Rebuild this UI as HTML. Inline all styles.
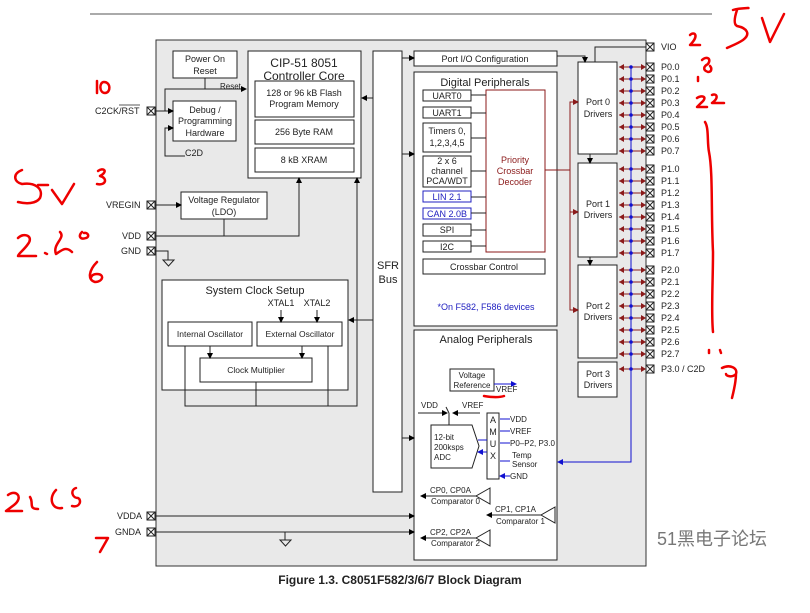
<!DOCTYPE html>
<html><head><meta charset="utf-8"><style>
body{margin:0;background:#fff;width:810px;height:608px;overflow:hidden}
text{font-family:"Liberation Sans",Arial,sans-serif;fill:#222}
</style></head><body>
<svg width="810" height="608" viewBox="0 0 810 608" xmlns="http://www.w3.org/2000/svg">
<defs>
<marker id="a" markerWidth="6" markerHeight="6" refX="5" refY="3" orient="auto" markerUnits="userSpaceOnUse"><path d="M0,0L6,3L0,6z" fill="#000"/></marker>
<marker id="ar" markerWidth="6" markerHeight="6" refX="5" refY="3" orient="auto" markerUnits="userSpaceOnUse"><path d="M0,0L6,3L0,6z" fill="#8b1a1a"/></marker>
<marker id="ab" markerWidth="6" markerHeight="6" refX="5" refY="3" orient="auto" markerUnits="userSpaceOnUse"><path d="M0,0L6,3L0,6z" fill="#1010d0"/></marker>
<g id="pin">
<line x1="619" y1="0" x2="644" y2="0" stroke="#8b1a1a"/>
<path d="M619,0l5,-3v6zM646,0l-5,-3v6z" fill="#8b1a1a"/>
<circle cx="631" cy="0" r="1.8" fill="#1010d0"/>
<rect x="646" y="-4" width="8" height="8" fill="#fff" stroke="#222"/>
<path d="M646,-4l8,8M654,-4l-8,8" stroke="#222"/>
</g>
</defs>
<line x1="90" y1="14" x2="712" y2="14" stroke="#555"/>
<rect x="156" y="40" width="490" height="526" fill="#e9e9e9" stroke="#333"/>
<g fill="#fff" stroke="#222" stroke-width="1">
<rect x="173" y="51" width="64" height="27"/>
<rect x="248" y="51" width="113" height="127"/>
<rect x="255" y="81" width="99" height="36"/>
<rect x="255" y="120" width="99" height="24"/>
<rect x="255" y="148" width="99" height="24"/>
<rect x="173" y="101" width="63" height="40"/>
<rect x="181" y="192" width="86" height="27"/>
<rect x="373" y="51" width="29" height="441"/>
<rect x="414" y="51" width="143" height="15"/>
<rect x="414" y="72" width="143" height="254"/>
<rect x="423" y="90" width="48" height="11"/>
<rect x="423" y="107" width="48" height="11"/>
<rect x="423" y="123" width="48" height="29"/>
<rect x="423" y="156" width="48" height="31"/>
<rect x="423" y="191" width="48" height="11" stroke="#2020c0"/>
<rect x="423" y="208" width="48" height="11" stroke="#2020c0"/>
<rect x="423" y="224" width="48" height="12"/>
<rect x="423" y="241" width="48" height="11"/>
<rect x="486" y="90" width="59" height="162" stroke="#8b1a1a"/>
<rect x="423" y="259" width="122" height="15"/>
<rect x="414" y="330" width="143" height="230"/>
<rect x="578" y="62" width="39" height="92"/>
<rect x="578" y="163" width="39" height="94"/>
<rect x="578" y="265" width="39" height="93"/>
<rect x="578" y="362" width="39" height="35"/>
<rect x="162" y="280" width="186" height="110"/>
<rect x="168" y="322" width="84" height="24"/>
<rect x="257" y="322" width="85" height="24"/>
<rect x="200" y="358" width="112" height="24"/>
<rect x="450" y="369" width="44" height="22"/>
<rect x="487" y="413" width="12" height="66"/>
<path d="M431,425H472L479,446L472,468H431Z"/>
</g>
<g stroke="#222" fill="none">
<path d="M155,111H173" marker-end="url(#a)"/><path d="M205,78V89H165V111"/><path d="M205,89H246" marker-end="url(#a)"/>
<path d="M185,156H165V128H173" marker-end="url(#a)"/>
<path d="M155,205H181" marker-end="url(#a)"/>
<path d="M155,236H299V178" marker-end="url(#a)"/><path d="M224,219V236"/>
<path d="M155,251H168V260"/><path d="M163,260h11l-5.5,6z"/>
<path d="M373,98H362" marker-end="url(#a)"/><path d="M185,346V406H357V178" marker-end="url(#a)"/><path d="M256,382V406"/><path d="M328,346V406"/>
<path d="M373,320H349" marker-end="url(#a)"/><path d="M210,346V358" marker-end="url(#a)"/><path d="M302,346V358" marker-end="url(#a)"/>
<path d="M281,310V322" marker-end="url(#a)"/><path d="M317,310V322" marker-end="url(#a)"/>
<path d="M402,58H414" marker-end="url(#a)"/><path d="M402,154H414" marker-end="url(#a)"/><path d="M402,438H414" marker-end="url(#a)"/>
<path d="M557,56H585V62" marker-end="url(#a)"/><path d="M646,47H595V62"/>
<path d="M590,154V163" marker-end="url(#a)"/><path d="M590,257V265" marker-end="url(#a)"/>
<path d="M155,516H414" marker-end="url(#a)"/><path d="M155,532H414" marker-end="url(#a)"/>
<path d="M285,532V540"/><path d="M280,540h11l-5.5,6z"/>
<path d="M471,95H486M471,113H486M471,138H486M471,171H486M471,197H486M471,213H486M471,230H486M471,246H486"/>
<path d="M418,413H447" marker-end="url(#a)"/><path d="M480,413H453" marker-end="url(#a)"/><path d="M449,413l-3,-6M449,413V425"/>
<path d="M490,488l-14,8 14,8z"/><path d="M476,496H421" marker-end="url(#a)"/>
<path d="M555,507l-14,8 14,8z"/><path d="M541,515H487" marker-end="url(#a)"/>
<path d="M490,530l-14,8 14,8z"/><path d="M476,538H421" marker-end="url(#a)"/>
</g>
<g stroke="#8b1a1a" fill="none">
<path d="M545,170H570V102H578" marker-end="url(#ar)"/><path d="M570,170V212H578" marker-end="url(#ar)"/><path d="M570,212V310H578" marker-end="url(#ar)"/>
</g>
<g stroke="#1010d0" fill="none">
<path d="M631,67V462H558" marker-end="url(#ab)"/>
<path d="M494,384H516" marker-end="url(#ab)"/>
<path d="M487,440H478M487,452H478" marker-end="url(#ab)"/>
<path d="M510,419H500M510,431H500M510,443H500M510,461H500M510,476H500" marker-end="url(#ab)"/>
</g>
<use href="#pin" y="67"/><use href="#pin" y="79"/><use href="#pin" y="91"/><use href="#pin" y="103"/><use href="#pin" y="115"/><use href="#pin" y="127"/><use href="#pin" y="139"/><use href="#pin" y="151"/>
<use href="#pin" y="169"/><use href="#pin" y="181"/><use href="#pin" y="193"/><use href="#pin" y="205"/><use href="#pin" y="217"/><use href="#pin" y="229"/><use href="#pin" y="241"/><use href="#pin" y="253"/>
<use href="#pin" y="270"/><use href="#pin" y="282"/><use href="#pin" y="294"/><use href="#pin" y="306"/><use href="#pin" y="318"/><use href="#pin" y="330"/><use href="#pin" y="342"/><use href="#pin" y="354"/>
<use href="#pin" y="369"/>
<g font-size="9" text-anchor="middle">
<text x="205" y="62">Power On</text><text x="205" y="74">Reset</text>
<text x="304" y="67" font-size="12">CIP-51 8051</text><text x="304" y="80" font-size="12">Controller Core</text>
<text x="304" y="96">128 or 96 kB Flash</text><text x="304" y="107">Program Memory</text>
<text x="304" y="135">256 Byte RAM</text><text x="304" y="163">8 kB XRAM</text>
<text x="205" y="113">Debug /</text><text x="205" y="124">Programming</text><text x="205" y="136">Hardware</text>
<text x="224" y="203">Voltage Regulator</text><text x="224" y="215">(LDO)</text>
<text x="388" y="269" font-size="11">SFR</text><text x="388" y="283" font-size="11">Bus</text>
<text x="485" y="62">Port I/O Configuration</text>
<text x="485" y="86" font-size="11">Digital Peripherals</text>
<text x="447" y="99">UART0</text><text x="447" y="116">UART1</text>
<text x="447" y="134">Timers 0,</text><text x="447" y="146">1,2,3,4,5</text>
<text x="447" y="164">2 x 6</text><text x="447" y="174">channel</text><text x="447" y="184">PCA/WDT</text>
<text x="447" y="200" style="fill:#2020c0">LIN 2.1</text><text x="447" y="217" style="fill:#2020c0">CAN 2.0B</text>
<text x="447" y="233">SPI</text><text x="447" y="250">I2C</text>
<text x="515" y="163" style="fill:#8b1a1a">Priority</text><text x="515" y="174" style="fill:#8b1a1a">Crossbar</text><text x="515" y="185" style="fill:#8b1a1a">Decoder</text>
<text x="484" y="270">Crossbar Control</text>
<text x="486" y="310" style="fill:#2020c0">*On F582, F586 devices</text>
<text x="486" y="343" font-size="11">Analog Peripherals</text>
<text x="472" y="378" font-size="8">Voltage</text><text x="472" y="388" font-size="8">Reference</text>
<text x="598" y="105">Port 0</text><text x="598" y="117">Drivers</text>
<text x="598" y="207">Port 1</text><text x="598" y="218">Drivers</text>
<text x="598" y="309">Port 2</text><text x="598" y="320">Drivers</text>
<text x="598" y="377">Port 3</text><text x="598" y="388">Drivers</text>
<text x="255" y="294" font-size="11">System Clock Setup</text>
<text x="210" y="337" font-size="8.5">Internal Oscillator</text>
<text x="300" y="337" font-size="8.5">External Oscillator</text>
<text x="256" y="373" font-size="8.5">Clock Multiplier</text>
<text x="281" y="306">XTAL1</text><text x="317" y="306">XTAL2</text>
<text x="493" y="423">A</text><text x="493" y="435">M</text><text x="493" y="447">U</text><text x="493" y="459">X</text>
</g>
<g font-size="8">
<text x="220" y="89">Reset</text>
<text x="185" y="156" font-size="9">C2D</text>
<text x="496" y="392">VREF</text>
<text x="421" y="408">VDD</text><text x="462" y="408">VREF</text>
<text x="510" y="422">VDD</text><text x="510" y="434">VREF</text><text x="510" y="446">P0–P2, P3.0</text>
<text x="512" y="458">Temp</text><text x="512" y="467">Sensor</text><text x="510" y="479">GND</text>
<text x="434" y="440">12-bit</text><text x="434" y="450">200ksps</text><text x="434" y="460">ADC</text>
<text x="430" y="493">CP0, CP0A</text><text x="431" y="504">Comparator 0</text>
<text x="495" y="512">CP1, CP1A</text><text x="496" y="524">Comparator 1</text>
<text x="430" y="535">CP2, CP2A</text><text x="431" y="546">Comparator 2</text>
</g>
<g font-size="9">
<text x="95" y="114">C2CK/RST</text><line x1="119" y1="105" x2="140" y2="105" stroke="#222" stroke-width="0.8"/>
<text x="106" y="208">VREGIN</text><text x="122" y="239">VDD</text><text x="121" y="254">GND</text>
<text x="117" y="519">VDDA</text><text x="115" y="535">GNDA</text>
<text x="661" y="50">VIO</text>
<text x="661" y="70">P0.0</text><text x="661" y="82">P0.1</text><text x="661" y="94">P0.2</text><text x="661" y="106">P0.3</text><text x="661" y="118">P0.4</text><text x="661" y="130">P0.5</text><text x="661" y="142">P0.6</text><text x="661" y="154">P0.7</text>
<text x="661" y="172">P1.0</text><text x="661" y="184">P1.1</text><text x="661" y="196">P1.2</text><text x="661" y="208">P1.3</text><text x="661" y="220">P1.4</text><text x="661" y="232">P1.5</text><text x="661" y="244">P1.6</text><text x="661" y="256">P1.7</text>
<text x="661" y="273">P2.0</text><text x="661" y="285">P2.1</text><text x="661" y="297">P2.2</text><text x="661" y="309">P2.3</text><text x="661" y="321">P2.4</text><text x="661" y="333">P2.5</text><text x="661" y="345">P2.6</text><text x="661" y="357">P2.7</text>
<text x="661" y="372">P3.0 / C2D</text>
</g>
<g fill="#fff" stroke="#222">
<rect x="147" y="107" width="8" height="8"/><rect x="147" y="201" width="8" height="8"/><rect x="147" y="232" width="8" height="8"/><rect x="147" y="247" width="8" height="8"/><rect x="147" y="512" width="8" height="8"/><rect x="147" y="528" width="8" height="8"/>
<rect x="646" y="43" width="8" height="8"/>
<path d="M147,107l8,8M155,107l-8,8M147,201l8,8M155,201l-8,8M147,232l8,8M155,232l-8,8M147,247l8,8M155,247l-8,8M147,512l8,8M155,512l-8,8M147,528l8,8M155,528l-8,8M646,43l8,8M654,43l-8,8" fill="none"/>
</g>
<g stroke="#e00" stroke-width="2.5" fill="none" stroke-linecap="round" stroke-linejoin="round">
<path d="M97,81v12M104,82c-5,0 -5,11 1,11c6,0 6,-11 -1,-11"/>
<path d="M98,171c5,-4 11,0 2,5c8,2 6,10 -3,8"/>
<path d="M22,170c-10,4 -8,12 0,14c12,-2 22,4 18,14c-4,6 -14,6 -22,4M38,185h10M52,190l10,14 12,-20"/>
<path d="M18,238c6,-6 16,-2 10,6c-4,6 -10,10 -10,12h18M45,253l2,1M60,232c6,6 -8,12 -4,22c6,-4 10,-8 16,-2M82,232c-4,4 -2,8 4,6c4,-1 2,-6 -2,-5M97,262c-8,8 -10,18 -2,20c8,0 10,-8 2,-8c-4,0 -6,2 -6,4"/>
<path d="M8,495c8,-6 16,2 6,10l-8,6h16M30,497c4,6 -2,12 8,12M56,490c-8,8 -4,20 6,18M76,488c-6,2 -4,10 2,10c4,2 2,10 -6,8M96,538h12l-8,14"/>
<path d="M733,10c6,-2 20,-2 14,-2M737,10c-2,6 -4,14 0,16c10,2 14,8 6,14c-6,4 -12,6 -16,8M762,18l8,24 14,-28"/>
<path d="M690,35c4,-4 10,0 0,10h10M702,60c4,-4 10,-2 6,4c-4,2 -6,6 0,8c4,0 4,-4 2,-6M698,77v4M697,98c4,-3 12,-2 4,5l-4,4h10M712,95c4,-2 8,2 0,8h12"/>
<path d="M705,122c4,6 2,20 4,30c4,20 2,60 4,100c0,30 -2,60 0,80"/>
<path d="M709,350v3M720,350l1,3M722,368c8,-4 16,0 14,6c-4,4 -10,2 -10,0M736,374c0,8 -2,16 -4,24"/>
<path d="M484,396c6,1 14,2 20,0"/>
</g>
<text x="657" y="545" font-size="18" style="fill:#777;font-family:'Liberation Sans','Noto Sans CJK SC',sans-serif">51黑电子论坛</text>
<text x="400" y="584" font-size="12" font-weight="bold" text-anchor="middle">Figure 1.3. C8051F582/3/6/7 Block Diagram</text>
</svg>
</body></html>
